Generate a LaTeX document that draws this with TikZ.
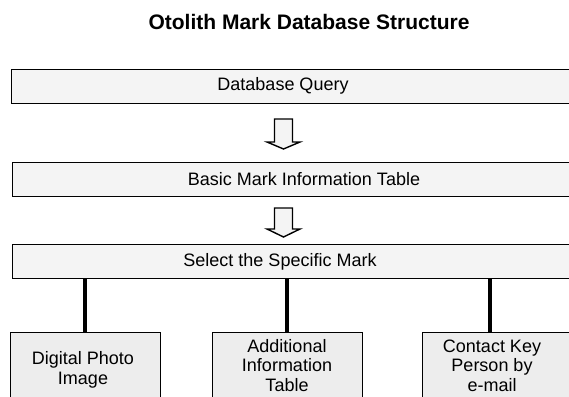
\documentclass[tikz,border=0pt]{standalone}
\usepackage{fontspec}
\setmainfont{Liberation Sans}
\begin{document}
\begin{tikzpicture}[x=1pt,y=-1pt,
  box/.style={draw=black, line width=1.4pt, fill=gray!9, inner sep=0pt, anchor=north west, minimum width=570pt, minimum height=34pt},
  leaf/.style={draw=black, line width=1.4pt, fill=gray!14, inner sep=0pt, anchor=north west, minimum width=150pt, minimum height=80pt},
  lbl/.style={font=\fontsize{18}{19.5}\selectfont, align=center, inner sep=0pt},
  link/.style={line width=3.2pt},
  blockarrow/.style={draw=black, line width=1.4pt, fill=gray!9, line join=miter}]
\useasboundingbox (0,0) rectangle (569,396);
\clip (0,0) rectangle (569,396);
\node[lbl, font=\bfseries\fontsize{21}{24}\selectfont] (title) at (309,22) {Otolith Mark Database Structure};
% top boxes
\node[box] (q) at (11,69) {};
\node[box] (b) at (12,162) {};
\node[box] (s) at (12,244) {};
\node[lbl] (qt) at (283,86) {Database Query};
\node[lbl] (bt) at (304,179) {Basic Mark Information Table};
\node[lbl] (st) at (280,261.5) {Select the Specific Mark};
% block arrows
\coordinate (a1) at (283.5,119);
\coordinate (a2) at (283.5,208);
\draw[blockarrow] (a1) ++(-9,0) -- ++(18,0) -- ++(0,23) -- ++(7.5,0) -- ++(-16.5,7) -- ++(-16.5,-7) -- ++(7.5,0) -- cycle;
\draw[blockarrow] (a2) ++(-9,0) -- ++(18,0) -- ++(0,21) -- ++(7.5,0) -- ++(-16.5,8) -- ++(-16.5,-8) -- ++(7.5,0) -- cycle;
% leaf boxes
\node[leaf] (d) at (10,332) {};
\node[leaf] (a) at (212,332) {};
\node[leaf] (c) at (422,332) {};
\node[lbl] (dt) at (83,370) {Digital Photo\\Image};
\node[lbl] (at) at (287,365.5) {Additional\\Information\\Table};
\node[lbl] (ct) at (492,365.5) {Contact Key\\Person by\\e-mail};
% connectors
\coordinate (c1) at (85,332);
\coordinate (c2) at (287,332);
\coordinate (c3) at (490,332);
\draw[link] (s.south -| c1) -- (c1);
\draw[link] (s.south -| c2) -- (c2);
\draw[link] (s.south -| c3) -- (c3);
\end{tikzpicture}
\end{document}
